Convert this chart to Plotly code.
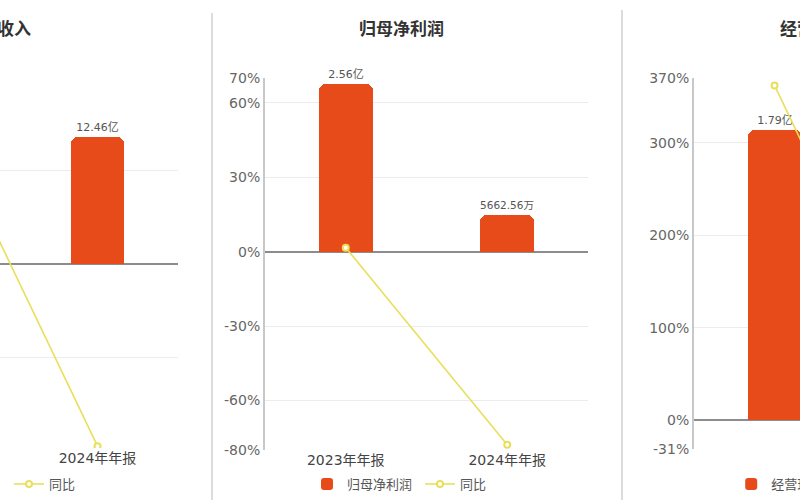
import plotly.graph_objects as go

# ---------------- data ----------------
categories = ["2023年年报", "2024年年报"]
cat_pos = [0, 1]

revenue_name = "营业收入"
revenue = [29.97, 12.46]            # 亿
revenue_labels = ["29.97亿", "12.46亿"]
revenue_yoy = [49.4, -58.4]         # %

profit_name = "归母净利润"
profit = [2.56, 0.566256]           # 亿
profit_labels = ["2.56亿", "5662.56万"]
profit_yoy = [1.6, -77.88]

cash_name = "经营现金流"
cash = [1.79, 1.76]
cash_labels = ["1.79亿", "1.76亿"]
cash_yoy = [362.0, -1.5]

yoy_name = "同比"

p1_ticks = [60, 30, 0, -30, -59]
p2_ticks = [70, 60, 30, 0, -30, -60, -80]
p3_ticks = [370, 300, 200, 100, 0, -31]

# ---------------- style ----------------
BAR = "#e84b1a"
LINE = "#e9df5c"
GRID = "#ececec"
TICKFONT = dict(family="DejaVu Sans", size=14, color="#666666")
CATFONT = dict(family="DejaVu Sans, Noto Sans CJK SC", size=14, color="#444444")
LABFONT = dict(family="DejaVu Sans, Noto Sans CJK SC", size=11, color="#555555")
LEGFONT = dict(family="Noto Sans CJK SC", size=13, color="#555555")

fig = go.Figure()

panels = [
    dict(n=1, name=revenue_name, bars=revenue, labels=revenue_labels, yoy=revenue_yoy,
         xdom=[0, 0.2225], xr=[0.394, 1.5], ydom=[0.104, 0.846],
         lr=[-59, 60], br=[-18.05, 18.35], ticks=p1_ticks, showaxis=False,
         leg=dict(x=-0.13, y=0.032)),
    dict(n=2, name=profit_name, bars=profit, labels=profit_labels, yoy=profit_yoy,
         xdom=[0.33125, 0.735], xr=[-0.5, 1.5], ydom=[0.1, 0.844],
         lr=[-80, 70], br=[-3.02, 2.65], ticks=p2_ticks, showaxis=True,
         leg=dict(x=0.38375, y=0.032)),
    dict(n=3, name=cash_name, bars=cash, labels=cash_labels, yoy=cash_yoy,
         xdom=[0.8675, 1.0], xr=[-0.5, 0.158], ydom=[0.102, 0.844],
         lr=[-31, 370], br=[-0.177, 2.111], ticks=p3_ticks, showaxis=True,
         leg=dict(x=0.914, y=0.032)),
]

for p in panels:
    n = p["n"]
    xa = "x" if n == 1 else f"x{n}"
    yb = 2 * n - 1
    yl = 2 * n
    ya_bar = "y" if yb == 1 else f"y{yb}"
    ya_line = f"y{yl}"
    legname = "legend" if n == 1 else f"legend{n}"

    fig.add_trace(go.Bar(
        x=cat_pos, y=p["bars"], name=p["name"], xaxis=xa, yaxis=ya_bar,
        width=0.335, marker=dict(color=BAR, cornerradius=7, line=dict(width=0)),
        text=p["labels"], textposition="outside", textfont=LABFONT,
        cliponaxis=False, legend=legname, hoverinfo="skip",
    ))
    fig.add_trace(go.Scatter(
        x=cat_pos, y=p["yoy"], name=yoy_name, xaxis=xa, yaxis=ya_line,
        mode="lines+markers", line=dict(color=LINE, width=1.6),
        marker=dict(symbol="circle", size=6, color="white", line=dict(color=LINE, width=2)),
        cliponaxis=True, legend=legname, hoverinfo="skip",
    ))

    xkey = "xaxis" if n == 1 else f"xaxis{n}"
    fig.layout[xkey] = dict(
        domain=p["xdom"], range=p["xr"], anchor=ya_bar,
        tickvals=cat_pos, ticktext=categories, tickfont=CATFONT,
        showgrid=False, zeroline=False, showline=False, ticks="",
        fixedrange=True,
    )
    bkey = "yaxis" if yb == 1 else f"yaxis{yb}"
    fig.layout[bkey] = dict(
        domain=p["ydom"], range=p["br"], anchor=xa,
        showgrid=False, zeroline=False, showticklabels=False, showline=False,
    )
    fig.layout[f"yaxis{yl}"] = dict(
        range=p["lr"], overlaying=ya_bar, anchor=xa, side="left",
        tickvals=p["ticks"], ticktext=[f"{t}%" for t in p["ticks"]],
        tickfont=TICKFONT, showticklabels=p["showaxis"],
        showgrid=True, gridcolor=GRID, gridwidth=1,
        zeroline=True, zerolinecolor="#8c8c8c", zerolinewidth=1.6,
        showline=p["showaxis"], linecolor="#c8c8c8", linewidth=2,
        ticks="", ticklabelstandoff=0,
    )
    fig.layout[legname] = dict(
        orientation="h", x=p["leg"]["x"], y=p["leg"]["y"],
        xanchor="left", yanchor="middle", font=LEGFONT,
        bgcolor="rgba(0,0,0,0)", borderwidth=0, entrywidth=68,
    )

# titles
TFONT = dict(family="Noto Sans CJK SC", size=17, color="#333333", weight="bold")
fig.add_annotation(text="营业收入", x=33 / 800, y=1 - 27 / 500, xref="paper", yref="paper",
                   xanchor="right", yanchor="middle", showarrow=False, font=TFONT)
fig.add_annotation(text="归母净利润", x=401 / 800, y=1 - 27 / 500, xref="paper", yref="paper",
                   xanchor="center", yanchor="middle", showarrow=False, font=TFONT)
fig.add_annotation(text="经营现金流", x=778 / 800, y=1 - 27 / 500, xref="paper", yref="paper",
                   xanchor="left", yanchor="middle", showarrow=False, font=TFONT)

# panel separators
for sx, sy in [(212, 13), (622, 10)]:
    fig.add_shape(type="line", xref="paper", yref="paper",
                  x0=sx / 800, x1=sx / 800, y0=1 - sy / 500, y1=0,
                  line=dict(color="#dcdcdc", width=2))

fig.update_layout(
    width=800, height=500,
    margin=dict(l=0, r=0, t=0, b=0, autoexpand=False),
    paper_bgcolor="white", plot_bgcolor="white",
    bargap=0.0,
    showlegend=True,
)

fig.write_html(
    "out.html",
    config={"displayModeBar": False},
    post_script="document.body.style.margin='0';document.body.style.overflow='hidden';",
)
